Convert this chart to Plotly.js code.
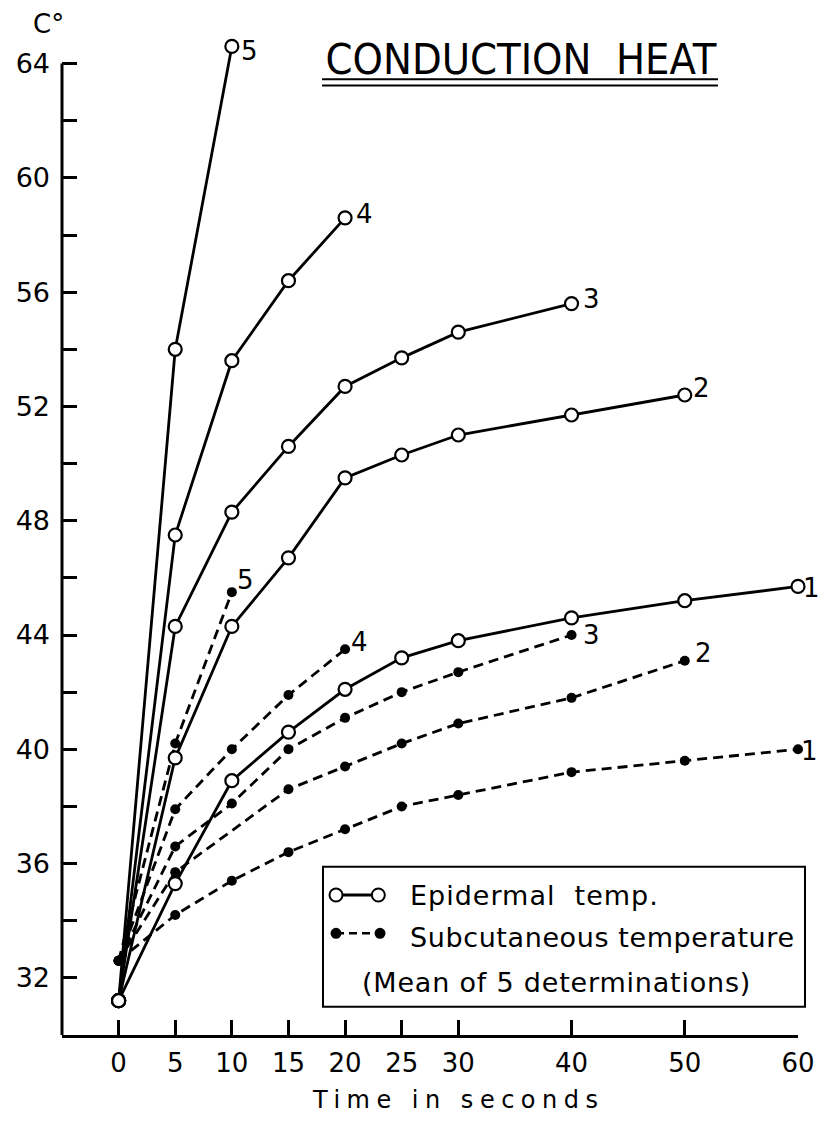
<!DOCTYPE html>
<html>
<head>
<meta charset="utf-8">
<script src="https://cdn.plot.ly/plotly-3.0.1.min.js"></script>
<style>
  html, body { margin: 0; padding: 0; background: #fff; }
  #chart { width: 819px; height: 1122px; }
</style>
</head>
<body>
<div id="chart"></div>
<script>
// Epidermal temperature (°C) against time of exposure (s), curves 1–5
const epi1Time = [0, 5, 10, 15, 20, 25, 30, 40, 50, 60];
const epi1Temp = [31.2, 35.3, 38.9, 40.6, 42.1, 43.2, 43.8, 44.6, 45.2, 45.7];
const epi2Time = [0, 5, 10, 15, 20, 25, 30, 40, 50];
const epi2Temp = [31.2, 39.7, 44.3, 46.7, 49.5, 50.3, 51.0, 51.7, 52.4];
const epi3Time = [0, 5, 10, 15, 20, 25, 30, 40];
const epi3Temp = [31.2, 44.3, 48.3, 50.6, 52.7, 53.7, 54.6, 55.6];
const epi4Time = [0, 5, 10, 15, 20];
const epi4Temp = [31.2, 47.5, 53.6, 56.4, 58.6];
const epi5Time = [0, 5, 10];
const epi5Temp = [31.2, 54.0, 64.6];

// Subcutaneous temperature (°C) against time (s), curves 1–5
const sub1Time = [0, 5, 10, 15, 20, 25, 30, 40, 50, 60];
const sub1Temp = [32.6, 34.2, 35.4, 36.4, 37.2, 38.0, 38.4, 39.2, 39.6, 40.0];
const sub2Time = [0, 5, 15, 20, 25, 30, 40, 50];
const sub2Temp = [32.6, 35.7, 38.6, 39.4, 40.2, 40.9, 41.8, 43.1];
const sub3Time = [0, 5, 10, 15, 20, 25, 30, 40];
const sub3Temp = [32.6, 36.6, 38.1, 40.0, 41.1, 42.0, 42.7, 44.0];
const sub4Time = [0, 5, 10, 15, 20];
const sub4Temp = [32.6, 37.9, 40.0, 41.9, 43.5];
const sub5Time = [0, 5, 10];
const sub5Temp = [32.6, 40.2, 45.5];

const curveLabels = ['1', '2', '3', '4', '5'];

const xTickVals = [0, 5, 10, 15, 20, 25, 30, 40, 50, 60];
const xTickText = ['0', '5', '10', '15', '20', '25', '30', '40', '50', '60'];
const yTickVals = [32, 34, 36, 38, 40, 42, 44, 46, 48, 50, 52, 54, 56, 58, 60, 62, 64];
const yTickText = ['32', '', '36', '', '40', '', '44', '', '48', '', '52', '', '56', '', '60', '', '64'];

const epiSeries = [
  [epi1Time, epi1Temp], [epi2Time, epi2Temp], [epi3Time, epi3Temp],
  [epi4Time, epi4Temp], [epi5Time, epi5Temp]
];
const subSeries = [
  [sub1Time, sub1Temp], [sub2Time, sub2Temp], [sub3Time, sub3Temp],
  [sub4Time, sub4Temp], [sub5Time, sub5Temp]
];

// Pixel nudges (right, up) for the curve-number tags beside each end point
const epiTagShift = [[13, -2], [17, 7], [20, 5], [19, 4], [18, -5]];
const subTagShift = [[11, -2], [19, 8], [20, 0], [14, 7], [14, 12]];

const FONT = 'DejaVu Sans, Liberation Sans, sans-serif';
const traces = [];
const annotations = [];

function endTag(t, v, label, shift) {
  return {
    x: t[t.length - 1], y: v[v.length - 1], xref: 'x', yref: 'y',
    text: label, showarrow: false, xanchor: 'center', yanchor: 'middle',
    xshift: shift[0], yshift: shift[1],
    font: { family: FONT, size: 26, color: '#000' }
  };
}

subSeries.forEach(([t, v], i) => {
  traces.push({
    x: t, y: v, type: 'scatter', mode: 'lines+markers', cliponaxis: false,
    line: { color: '#000', width: 2.8, dash: '10px,6px' },
    marker: { symbol: 'circle', size: 10, color: '#000' },
    hoverinfo: 'skip'
  });
  annotations.push(endTag(t, v, curveLabels[i], subTagShift[i]));
});

epiSeries.forEach(([t, v], i) => {
  traces.push({
    x: t, y: v, type: 'scatter', mode: 'lines+markers', cliponaxis: false,
    line: { color: '#000', width: 2.8 },
    marker: { symbol: 'circle', size: 13, color: '#fff', line: { color: '#000', width: 2.2 } },
    hoverinfo: 'skip'
  });
  annotations.push(endTag(t, v, curveLabels[i], epiTagShift[i]));
});

// Unit label above the temperature axis
annotations.push({
  x: -0.018, y: 1.011, xref: 'paper', yref: 'paper', text: 'C°',
  showarrow: false, xanchor: 'center', yanchor: 'middle',
  font: { family: FONT, size: 26, color: '#000' }
});

// Time axis caption, letter-spaced
annotations.push({
  x: 0.538, y: -0.065, xref: 'paper', yref: 'paper',
  text: '<span style="letter-spacing:6.5px">Time in seconds</span>',
  showarrow: false, xanchor: 'center', yanchor: 'middle',
  font: { family: FONT, size: 24, color: '#000' }
});

// Key text
annotations.push({
  x: 0.4701, y: 0.1400, xref: 'paper', yref: 'paper',
  text: '<span style="letter-spacing:1px">Epidermal  temp.</span>',
  showarrow: false, xanchor: 'left', yanchor: 'middle',
  font: { family: FONT, size: 27, color: '#000' }
});
annotations.push({
  x: 0.4701, y: 0.0975, xref: 'paper', yref: 'paper',
  text: '<span style="letter-spacing:0.6px">Subcutaneous temperature</span>',
  showarrow: false, xanchor: 'left', yanchor: 'middle',
  font: { family: FONT, size: 27, color: '#000' }
});
annotations.push({
  x: 0.6712, y: 0.0525, xref: 'paper', yref: 'paper',
  text: '<span style="letter-spacing:0.8px">(Mean of 5 determinations)</span>',
  showarrow: false, xanchor: 'center', yanchor: 'middle',
  font: { family: FONT, size: 27, color: '#000' }
});

function keyDot(xc, yc, r, fill) {
  return {
    type: 'circle', xref: 'paper', yref: 'paper', xsizemode: 'pixel', ysizemode: 'pixel',
    xanchor: xc, yanchor: yc, x0: -r, x1: r, y0: -r, y1: r,
    fillcolor: fill, line: { color: '#000', width: 2 }, layer: 'above'
  };
}

const shapes = [
  // temperature axis line, stopping at the 64° tick
  { type: 'line', xref: 'paper', yref: 'y', x0: 0, x1: 0, y0: 29.94, y1: 64,
    line: { color: '#000', width: 3 }, layer: 'above' },
  // double rule under the heading
  { type: 'line', xref: 'paper', yref: 'paper', x0: 0.3533, x1: 0.8913, y0: 0.9557, y1: 0.9557,
    line: { color: '#000', width: 2 } },
  { type: 'line', xref: 'paper', yref: 'paper', x0: 0.3533, x1: 0.8913, y0: 0.9495, y1: 0.9495,
    line: { color: '#000', width: 2 } },
  // key frame
  { type: 'rect', xref: 'paper', yref: 'paper', x0: 0.3546, x1: 1.0095, y0: 0.0283, y1: 0.1683,
    line: { color: '#000', width: 2 }, fillcolor: 'rgba(255,255,255,1)', layer: 'above' },
  // key samples
  { type: 'line', xref: 'paper', yref: 'paper', x0: 0.3723, x1: 0.4298, y0: 0.1400, y1: 0.1400,
    line: { color: '#000', width: 2.8 }, layer: 'above' },
  keyDot(0.3723, 0.1400, 6.5, '#fff'),
  keyDot(0.4298, 0.1400, 6.5, '#fff'),
  { type: 'line', xref: 'paper', yref: 'paper', x0: 0.3723, x1: 0.4321, y0: 0.1017, y1: 0.1017,
    line: { color: '#000', width: 2.6, dash: '8px,5px' }, layer: 'above' },
  keyDot(0.3723, 0.1017, 4.5, '#000'),
  keyDot(0.4321, 0.1017, 4.5, '#000')
];

const layout = {
  width: 819, height: 1122,
  margin: { l: 62, r: 21, t: 35, b: 87 },
  paper_bgcolor: '#fff', plot_bgcolor: '#fff',
  showlegend: false,
  font: { family: FONT, color: '#000' },
  title: {
    text: 'CONDUCTION  HEAT',
    font: { family: 'Liberation Sans Narrow, DejaVu Sans Condensed, DejaVu Sans, sans-serif', size: 43, color: '#000' },
    x: 0.636, xanchor: 'center', xref: 'container',
    y: 0.9475, yanchor: 'middle', yref: 'container'
  },
  xaxis: {
    range: [-5, 60], showgrid: false, zeroline: false,
    showline: true, linewidth: 3, linecolor: '#000',
    ticks: 'inside', ticklen: 15, tickwidth: 3, tickcolor: '#000',
    tickmode: 'array', tickvals: xTickVals, ticktext: xTickText,
    tickfont: { family: FONT, size: 26, color: '#000' },
    ticklabelstandoff: 3
  },
  yaxis: {
    range: [30, 65], showgrid: false, zeroline: false,
    showline: false,
    ticks: 'inside', ticklen: 15, tickwidth: 3, tickcolor: '#000',
    tickmode: 'array', tickvals: yTickVals, ticktext: yTickText,
    tickfont: { family: FONT, size: 27, color: '#000' },
    ticklabelstandoff: 11
  },
  shapes: shapes,
  annotations: annotations
};

Plotly.newPlot('chart', traces, layout, { staticPlot: true, displayModeBar: false });
</script>
</body>
</html>
